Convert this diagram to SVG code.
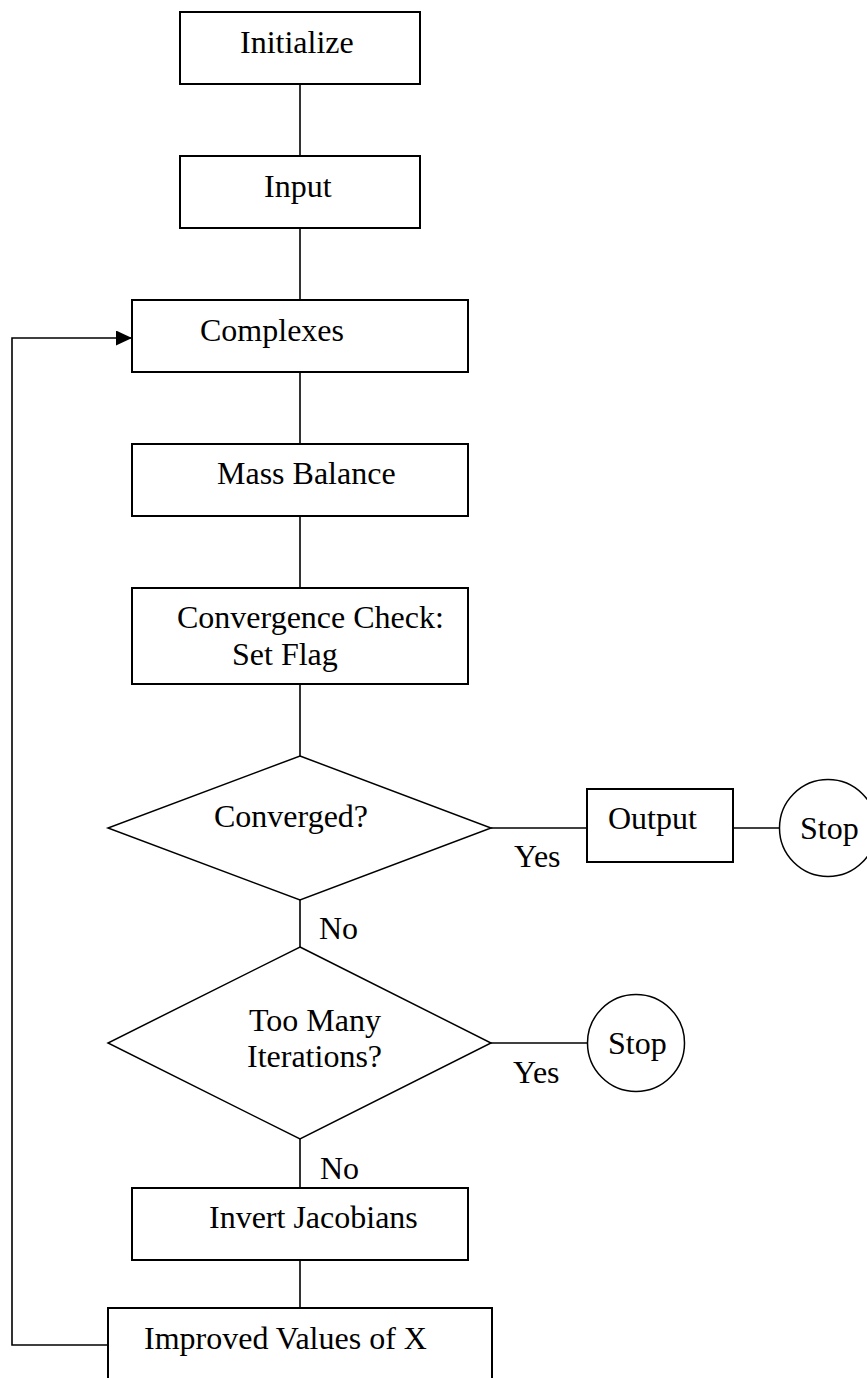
<svg xmlns="http://www.w3.org/2000/svg" width="867" height="1378" viewBox="0 0 867 1378">
<style>
.box{fill:#fff;stroke:#000;stroke-width:2}
.dia{fill:#fff;stroke:#000;stroke-width:1.5}
.conn{fill:none;stroke:#000;stroke-width:1.6}
text{font-family:"Liberation Serif","Times New Roman",serif;font-size:32px;fill:#000}
</style>
<defs>
<marker id="arr" markerWidth="16" markerHeight="15" refX="16" refY="7.5" orient="auto" markerUnits="userSpaceOnUse">
<path d="M0,0 L16,7.5 L0,15 Z" fill="#000"/>
</marker>
</defs>
<rect width="867" height="1378" fill="#fff"/>
<g id="connectors">
<line class="conn" x1="300" y1="84" x2="300" y2="156"/>
<line class="conn" x1="300" y1="228" x2="300" y2="300"/>
<line class="conn" x1="300" y1="372" x2="300" y2="444"/>
<line class="conn" x1="300" y1="516" x2="300" y2="588"/>
<line class="conn" x1="300" y1="684" x2="300" y2="756"/>
<line class="conn" x1="491" y1="828" x2="587" y2="828"/>
<line class="conn" x1="733" y1="828" x2="780" y2="828"/>
<line class="conn" x1="300" y1="900" x2="300" y2="947"/>
<line class="conn" x1="491" y1="1043" x2="588" y2="1043"/>
<line class="conn" x1="300" y1="1139" x2="300" y2="1188"/>
<line class="conn" x1="300" y1="1260" x2="300" y2="1308"/>
<polyline class="conn" points="108,1345 12,1345 12,338 132,338" marker-end="url(#arr)"/>
<text x="514" y="867">Yes</text>
<text x="319" y="939">No</text>
<text x="513" y="1083">Yes</text>
<text x="320" y="1179">No</text>
</g>
<g id="initialize"><rect class="box" x="180" y="12" width="240" height="72"/><text x="240" y="53">Initialize</text></g>
<g id="input"><rect class="box" x="180" y="156" width="240" height="72"/><text x="264" y="197">Input</text></g>
<g id="complexes"><rect class="box" x="132" y="300" width="336" height="72"/><text x="200" y="341">Complexes</text></g>
<g id="mass-balance"><rect class="box" x="132" y="444" width="336" height="72"/><text x="217" y="484">Mass Balance</text></g>
<g id="convergence-check"><rect class="box" x="132" y="588" width="336" height="96"/><text x="177" y="628">Convergence Check:</text><text x="232" y="665">Set Flag</text></g>
<g id="converged"><polygon class="dia" points="300,756 491,828 300,900 108,828"/><text x="214" y="827">Converged?</text></g>
<g id="output"><rect class="box" x="587" y="789" width="146" height="73"/><text x="608" y="829">Output</text></g>
<g id="stop1"><circle class="dia" cx="828" cy="828" r="48.5"/><text x="800" y="839">Stop</text></g>
<g id="too-many"><polygon class="dia" points="300,947 491,1043 300,1139 108,1043"/><text x="249" y="1031">Too Many</text><text x="247" y="1067">Iterations?</text></g>
<g id="stop2"><circle class="dia" cx="636" cy="1043" r="48.5"/><text x="608" y="1054">Stop</text></g>
<g id="invert"><rect class="box" x="132" y="1188" width="336" height="72"/><text x="209" y="1228">Invert Jacobians</text></g>
<g id="improved"><rect class="box" x="108" y="1308" width="384" height="90"/><text x="144" y="1349">Improved Values of X</text></g>
</svg>
